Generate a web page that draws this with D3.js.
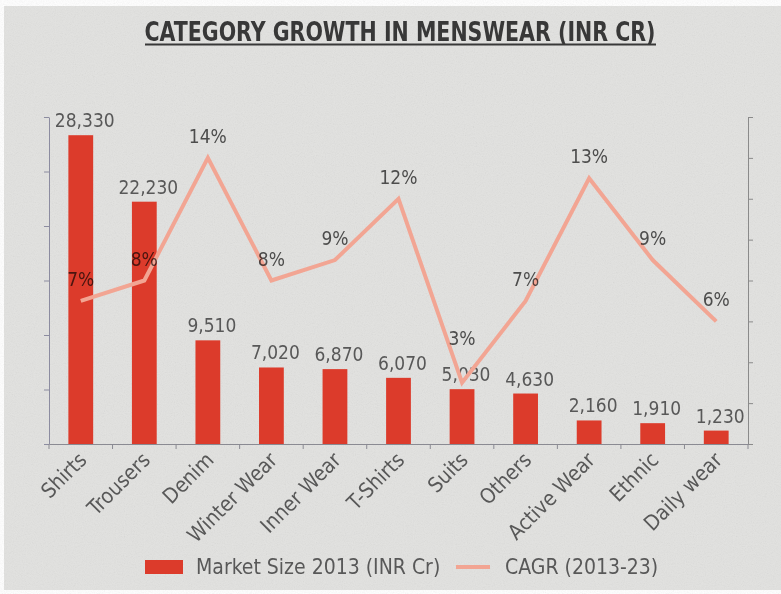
<!DOCTYPE html>
<html>
<head>
<meta charset="utf-8">
<script src="https://cdn.jsdelivr.net/npm/d3@7"></script>
<style>
  body { margin: 0; background: #fff; }
  text { font-family: "DejaVu Sans Condensed", "Liberation Sans Narrow", sans-serif; }
</style>
</head>
<body>
<div id="chart"></div>
<script>
// chart data
var categories = ["Shirts", "Trousers", "Denim", "Winter Wear", "Inner Wear", "T-Shirts",
                  "Suits", "Others", "Active Wear", "Ethnic", "Daily wear"];
var marketSize = [28330, 22230, 9510, 7020, 6870, 6070, 5030, 4630, 2160, 1910, 1230];
var cagr = [7, 8, 14, 8, 9, 12, 3, 7, 13, 9, 6];
var sizeTicks = [0, 5000, 10000, 15000, 20000, 25000, 30000];
var cagrTicks = [0, 2, 4, 6, 8, 10, 12, 14, 16];

var W = 781, H = 594;
var plotLeft = 49, plotRight = 748, plotTop = 117, plotBase = 444;

var barColor = "#dc3b2b",
    lineColor = "#f2a593",
    axisColor = "#8c8ca0",
    textColor = "#585858";

var svg = d3.select("#chart")
  .append("svg")
    .attr("width", W)
    .attr("height", H);

// grey paper background with a bit of grain
var defs = svg.append("defs");
var grain = defs.append("filter").attr("id", "grain");
grain.append("feTurbulence")
  .attr("type", "fractalNoise")
  .attr("baseFrequency", 0.9)
  .attr("numOctaves", 2)
  .attr("seed", 3);
grain.append("feColorMatrix").attr("type", "saturate").attr("values", 0);

svg.append("rect")
  .attr("x", 4).attr("y", 6)
  .attr("width", W - 4).attr("height", H - 10)
  .attr("fill", "#e2e2e0");
svg.append("rect")
  .attr("x", 4).attr("y", 6)
  .attr("width", W - 4).attr("height", H - 10)
  .attr("filter", "url(#grain)")
  .attr("opacity", 0.14);

// title
svg.append("text")
  .attr("x", 400)
  .attr("y", 41)
  .attr("text-anchor", "middle")
  .attr("textLength", 511)
  .attr("lengthAdjust", "spacingAndGlyphs")
  .style("font-size", "26px")
  .style("font-weight", "bold")
  .style("fill", "#383838")
  .text("CATEGORY GROWTH IN MENSWEAR (INR CR)");
svg.append("line")
  .attr("x1", 145).attr("x2", 656)
  .attr("y1", 44.5).attr("y2", 44.5)
  .attr("stroke", "#383838")
  .attr("stroke-width", 2);

// scales
var x = d3.scaleBand()
  .domain(categories)
  .range([plotLeft, plotRight])
  .paddingInner(0.61)
  .paddingOuter(0.305);

var y = d3.scaleLinear()
  .domain([0, 30000])
  .range([plotBase, plotTop]);

var y2 = d3.scaleLinear()
  .domain([0, 16])
  .range([plotBase, plotTop]);

function cx(i) { return x(categories[i]) + x.bandwidth() / 2; }

// left axis (market size)
var yAxis = svg.append("g")
  .attr("transform", "translate(" + plotLeft + ",0)")
  .call(d3.axisLeft(y).tickValues(sizeTicks).tickFormat("").tickSize(5).tickSizeOuter(0));
yAxis.selectAll("path, line").attr("stroke", axisColor);

// right axis (cagr)
var y2Axis = svg.append("g")
  .attr("transform", "translate(" + plotRight + ",0)")
  .call(d3.axisRight(y2).tickValues(cagrTicks).tickFormat("").tickSize(5).tickSizeOuter(0));
y2Axis.selectAll("path, line").attr("stroke", "#8a8a8a");

// bars
svg.selectAll("rect.bar")
  .data(marketSize)
  .enter()
  .append("rect")
    .attr("class", "bar")
    .attr("x", function(d, i) { return x(categories[i]); })
    .attr("width", x.bandwidth())
    .attr("y", function(d) { return y(d); })
    .attr("height", function(d) { return plotBase - y(d); })
    .attr("fill", barColor);

// x axis: baseline, ticks between bands and rotated labels
var xAxis = svg.append("g")
  .attr("transform", "translate(0," + plotBase + ")")
  .call(d3.axisBottom(x).tickSize(0).tickSizeOuter(0));
xAxis.select(".domain").attr("stroke", "#8a8a92");
xAxis.selectAll(".tick text")
  .attr("x", 0).attr("y", 0)
  .attr("dy", "0.35em")
  .attr("text-anchor", "end")
  .attr("transform", "translate(2,12) rotate(-45)")
  .style("font-size", "21px")
  .style("fill", textColor);

svg.selectAll("line.sep")
  .data(d3.range(categories.length + 1))
  .enter()
  .append("line")
    .attr("class", "sep")
    .attr("x1", function(i) { return plotLeft + i * x.step(); })
    .attr("x2", function(i) { return plotLeft + i * x.step(); })
    .attr("y1", plotBase)
    .attr("y2", plotBase + 5)
    .attr("stroke", "#8a8a92");

// bar value labels
svg.selectAll("text.val")
  .data(marketSize)
  .enter()
  .append("text")
    .attr("class", "val")
    .attr("x", function(d, i) { return cx(i) + 4; })
    .attr("y", function(d) { return y(d) - 8; })
    .attr("text-anchor", "middle")
    .style("font-size", "19px")
    .style("fill", textColor)
    .text(function(d) { return d3.format(",")(d); });

// cagr line
svg.append("path")
  .datum(cagr)
  .attr("fill", "none")
  .attr("stroke", lineColor)
  .attr("stroke-width", 4)
  .attr("d", d3.line()
    .x(function(d, i) { return cx(i); })
    .y(function(d) { return y2(d); })
  );

// cagr labels, pushed up when they would sit on the bar value label
function pctY(d, i) {
  var ly = y2(d) - 15,
      vy = y(marketSize[i]) - 8;
  if (Math.abs(ly - vy) < 24) ly = vy - 36;
  return ly;
}

svg.selectAll("text.pct")
  .data(cagr)
  .enter()
  .append("text")
    .attr("class", "pct")
    .attr("x", function(d, i) { return cx(i); })
    .attr("y", pctY)
    .attr("text-anchor", "middle")
    .style("font-size", "19px")
    .style("fill", textColor)
    .style("mix-blend-mode", "multiply")
    .text(function(d) { return d + "%"; });

// legend
var legend = svg.append("g").attr("transform", "translate(0,567)");
legend.append("rect")
  .attr("x", 145).attr("y", -7)
  .attr("width", 38).attr("height", 14)
  .attr("fill", barColor);
legend.append("text")
  .attr("x", 196).attr("dy", "0.35em")
  .style("font-size", "21px")
  .style("fill", textColor)
  .text("Market Size 2013 (INR Cr)");
legend.append("line")
  .attr("x1", 456).attr("x2", 490)
  .attr("stroke", lineColor)
  .attr("stroke-width", 4);
legend.append("text")
  .attr("x", 505).attr("dy", "0.35em")
  .style("font-size", "21px")
  .style("fill", textColor)
  .text("CAGR (2013-23)");
</script>
</body>
</html>
